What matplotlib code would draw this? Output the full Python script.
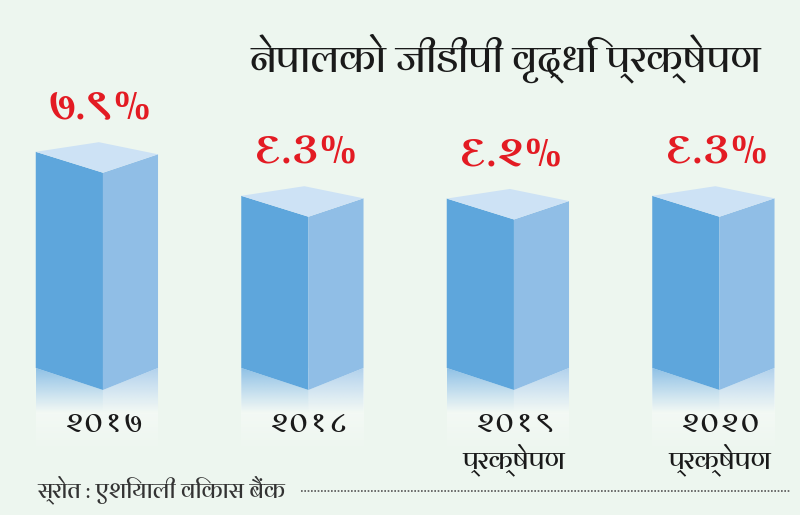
import numpy as np
import matplotlib.pyplot as plt
import matplotlib.colors as mcolors
from matplotlib.patches import Polygon

years = ['२०१७', '२०१८', '२०१९', '२०२०']
sublabels = ['', '', 'प्रक्षेपण', 'प्रक्षेपण']
growth = [7.9, 6.3, 6.2, 6.3]
value_labels = ['७.९%', '६.३%', '६.२%', '६.३%']
title = 'नेपालको जीडीपी वृद्धि प्रक्षेपण'
source = 'स्रोत : एशियाली विकास बैंक'

plt.rcParams['font.family'] = ['Arya', 'FreeSans', 'DejaVu Sans']

bg = '#edf6ef'
front_c = '#5ea6dc'
side_c = '#90bee6'
top_c = '#cde2f5'
red = '#e31b23'
ink = '#1a1a1a'

fig = plt.figure(figsize=(8, 5.15), dpi=100)
fig.patch.set_facecolor(bg)
ax = fig.add_axes([0, 0, 1, 1])
ax.set_facecolor(bg)

# bar geometry (in category / value units)
fw, sw = 0.327, 0.268        # front and side widths
foot = 0.8                   # outer bottom corners rise
lift_l, lift_r, lift_b = 0.76, 0.67, 1.11
refl = 0.85                  # reflection depth below the base
glow = 2.3                   # faint white column below


def gradient(ax, poly, color, a0, a1, y0, y1, x0, x1, z=1):
    rgba = np.zeros((100, 2, 4))
    rgba[..., :3] = mcolors.to_rgb(color)
    rgba[..., 3] = np.linspace(a0, a1, 100)[:, None]
    im = ax.imshow(rgba, extent=[x0, x1, y1, y0], origin='upper',
                   aspect='auto', zorder=z, interpolation='bilinear')
    ax.add_patch(poly)
    im.set_clip_path(poly)


for i, v in enumerate(growth):
    front = Polygon([(i - fw, foot), (i, 0), (i, v), (i - fw, v + lift_l)],
                    closed=True, fc=front_c, ec='none', zorder=3)
    side = Polygon([(i, 0), (i + sw, foot), (i + sw, v + lift_r), (i, v)],
                   closed=True, fc=side_c, ec='none', zorder=3)
    top = Polygon([(i - fw, v + lift_l), (i, v), (i + sw, v + lift_r),
                   (i - 0.02, v + lift_b)],
                  closed=True, fc=top_c, ec='none', zorder=3)
    for p in (front, side, top):
        ax.add_patch(p)

    # whitish glow column, then the fading reflection on top of it
    gl = Polygon([(i - fw, foot), (i + sw, foot), (i + sw, -glow),
                  (i - fw, -glow)], closed=True, fc='none', ec='none')
    gradient(ax, gl, 'white', 0.75, 0.0, foot, -glow, i - fw, i + sw, z=0.5)
    fr = Polygon([(i - fw, foot), (i, 0), (i, -refl), (i - fw, -refl)],
                 closed=True, fc='none', ec='none')
    sr = Polygon([(i, 0), (i + sw, foot), (i + sw, -refl), (i, -refl)],
                 closed=True, fc='none', ec='none')
    gradient(ax, fr, front_c, 0.7, 0.0, foot, -refl, i - fw, i)
    gradient(ax, sr, side_c, 0.7, 0.0, foot, -refl, i, i + sw)

    ax.text(i - 0.02, v + 2.3, value_labels[i], color=red, fontsize=32,
            fontweight='bold', ha='center', va='center', zorder=5)
    ax.text(i, -1.28, years[i], fontsize=22, ha='center',
            va='center', color=ink, zorder=5)
    if sublabels[i]:
        ax.text(i, -2.55, sublabels[i], fontsize=19, ha='center',
                va='center', color=ink, zorder=5)

ax.set_xlim(-0.501, 3.392)
ax.set_ylim(-4.545, 14.18)
ax.axis('off')

fig.text(0.633, 0.887, title, fontsize=28.5, ha='center', va='center',
         color=ink)
fig.text(0.047, 0.05, source, fontsize=16.5, ha='left', va='center',
         color='#333333')
fig.add_artist(plt.Line2D([0.376, 0.988], [0.047, 0.047], color='#555555',
                          lw=1.2, ls=(0, (1, 1)), transform=fig.transFigure))

fig.savefig('out.png', dpi=100, facecolor=bg)
